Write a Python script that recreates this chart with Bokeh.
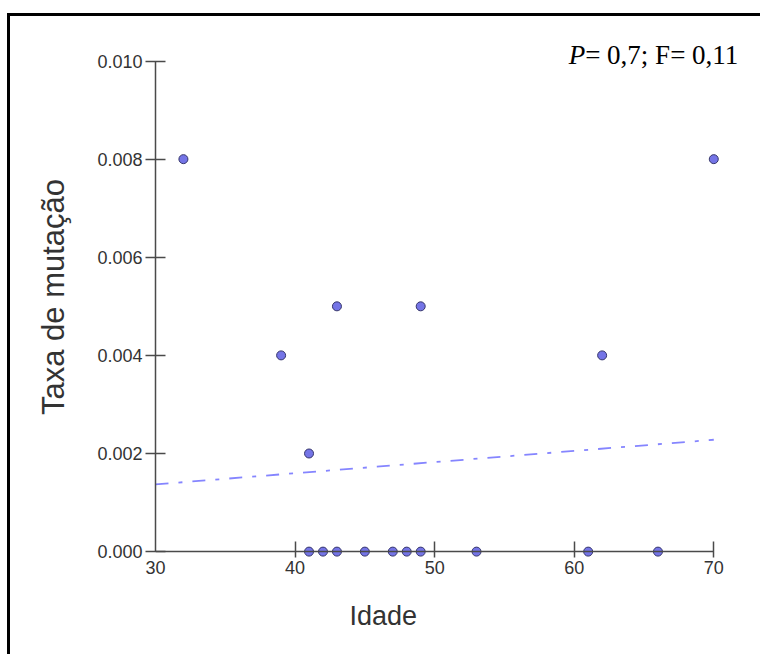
from bokeh.plotting import figure
from bokeh.models import FixedTicker, NumeralTickFormatter, Label, Range1d, LinearAxis, Title
from bokeh.embed import file_html
from bokeh.resources import INLINE

# data
idade = [32, 39, 41, 43, 49, 62, 70, 41, 42, 43, 45, 47, 48, 49, 53, 61, 66]
taxa = [0.008, 0.004, 0.002, 0.005, 0.005, 0.004, 0.008,
        0.0, 0.0, 0.0, 0.0, 0.0, 0.0, 0.0, 0.0, 0.0, 0.0]
fit_x = [30, 70]
fit_y = [0.00137, 0.00228]
x_ticks = [30, 40, 50, 60, 70]
x_tick_marks = [40, 50, 60, 70]
y_ticks = [0.000, 0.002, 0.004, 0.006, 0.008, 0.010]
x_label = "Idade"
y_label = "Taxa de mutação"
stat_p = "P"
stat_rest = "= 0,7; F= 0,11"

AX = "#4a4a4a"
TXT = "#333333"

p = figure(width=753, height=641, output_backend="svg", toolbar_location=None,
           x_range=Range1d(30, 72.2), y_range=Range1d(-0.00012, 0.0105),
           min_border_left=145, min_border_right=19, min_border_top=20,
           min_border_bottom=100)
p.styles = {"border-top": "3px solid black", "border-left": "3px solid black",
            "margin-top": "13px", "margin-left": "7px"}
p.outline_line_color = None
p.xgrid.visible = False
p.ygrid.visible = False
p.background_fill_color = "white"
p.border_fill_color = "white"

p.line(fit_x, fit_y, line_color="#8585ff", line_width=1.8, line_dash="13 10 4 10")
p.scatter(idade, taxa, marker="circle", size=9, fill_color="#7474e6",
          line_color="#35356b", line_width=1)

# x axis tick labels (below the frame)
xa = p.below[0]
xa.ticker = FixedTicker(ticks=x_ticks)
xa.axis_line_color = None
xa.major_tick_line_color = None
xa.minor_tick_line_color = None
xa.major_tick_in = 0
xa.major_tick_out = 0
xa.major_label_standoff = 3
xa.major_label_text_font = "Liberation Sans"
xa.major_label_text_font_size = "18px"
xa.major_label_text_color = TXT

# x axis title, placed left of centre as in the reference
p.add_layout(Title(text=x_label, align="left", offset=194, standoff=45,
                   text_font="Liberation Sans", text_font_size="27px",
                   text_font_style="normal", text_color=TXT), "below")

# x axis line drawn at y = 0 (ticks only)
xline = LinearAxis(ticker=FixedTicker(ticks=x_tick_marks), bounds=(30, 70),
                   fixed_location=0)
xline.axis_line_color = AX
xline.axis_line_width = 1.5
xline.major_tick_line_color = AX
xline.major_tick_line_width = 1.5
xline.major_tick_in = 10
xline.major_tick_out = 10
xline.minor_tick_line_color = None
xline.major_label_text_font_size = "0px"
xline.major_label_text_color = None
xline.major_label_standoff = 0
p.add_layout(xline, "above")

ya = p.left[0]
ya.ticker = FixedTicker(ticks=y_ticks)
ya.formatter = NumeralTickFormatter(format="0.000")
ya.bounds = (0, 0.010)
ya.axis_line_color = AX
ya.axis_line_width = 1.5
ya.major_tick_line_color = AX
ya.major_tick_line_width = 1.5
ya.major_tick_in = 10
ya.major_tick_out = 10
ya.minor_tick_line_color = None
ya.major_label_standoff = 3
ya.major_label_text_font = "Liberation Sans"
ya.major_label_text_font_size = "18px"
ya.major_label_text_color = TXT
ya.axis_label = y_label
ya.axis_label_text_font = "Liberation Sans"
ya.axis_label_text_font_size = "31px"
ya.axis_label_text_font_style = "normal"
ya.axis_label_text_color = TXT
ya.axis_label_standoff = 23

p.add_layout(Label(x=59.6, y=0.01012, text=stat_p, text_font="Liberation Serif",
                   text_font_size="27px", text_font_style="italic",
                   text_color="black", text_baseline="alphabetic"))
p.add_layout(Label(x=59.6, y=0.01012, x_offset=16.5, text=stat_rest,
                   text_font="Liberation Serif", text_font_size="27px",
                   text_color="black", text_baseline="alphabetic"))

open("out.html", "w").write(file_html(p, INLINE))
